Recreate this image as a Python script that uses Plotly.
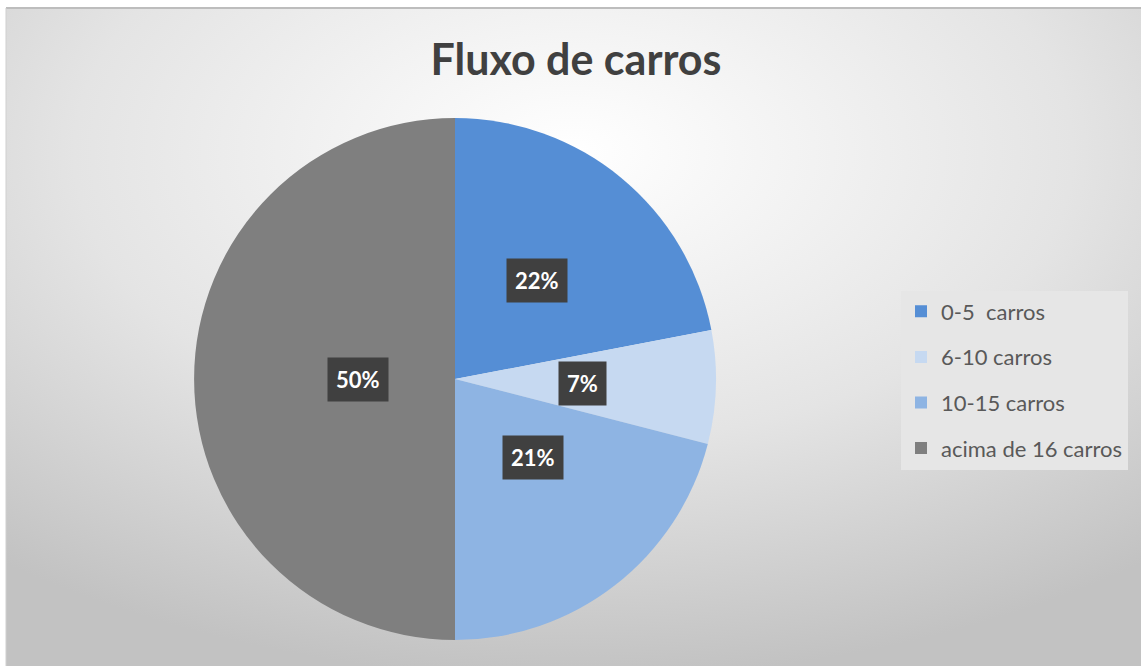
import base64
import math
import plotly.graph_objects as go

# ---- data ----
categories = ["0-5  carros", "6-10 carros", "10-15 carros", "acima de 16 carros"]
values = [22, 7, 21, 50]
colors = ["#558ED5", "#C6D9F1", "#8EB4E3", "#7F7F7F"]
title_text = "Fluxo de carros"

W, H = 1141, 666
FONT = "Lato, Open Sans, sans-serif"
# pie placement in pixels
pie_left, pie_right, pie_top, pie_bottom = 194, 716, 118, 640
dom_x = [pie_left / W, pie_right / W]
dom_y = [1 - pie_bottom / H, 1 - pie_top / H]

fig = go.Figure()
fig.add_trace(go.Pie(
    labels=categories,
    values=values,
    sort=False,
    direction="clockwise",
    rotation=0,
    marker=dict(colors=colors, line=dict(width=0)),
    textinfo="none",
    hoverinfo="label+percent",
    domain=dict(x=dom_x, y=dom_y),
    showlegend=False,
))

# legend entries (one group per category so they can be spaced like the original)
for i, (lab, col) in enumerate(zip(categories, colors)):
    fig.add_trace(go.Scatter(
        x=[None], y=[None], mode="markers", name=lab,
        marker=dict(symbol="square", size=12, color=col),
        legendgroup=f"g{i}", showlegend=True, hoverinfo="skip",
    ))

# percentage label boxes placed at slice centres (computed from data)
total = sum(values)
cx = (dom_x[0] + dom_x[1]) / 2
cy = (dom_y[0] + dom_y[1]) / 2
rx = (dom_x[1] - dom_x[0]) / 2
ry = (dom_y[1] - dom_y[0]) / 2
cum = 0
for v in values:
    mid = (cum + v / 2) / total * 2 * math.pi
    cum += v
    fig.add_annotation(
        x=cx + 0.49 * rx * math.sin(mid),
        y=cy + 0.49 * ry * math.cos(mid),
        xref="paper", yref="paper",
        text=f"<b>{round(v / total * 100)}%</b>",
        showarrow=False,
        font=dict(family=FONT, size=22, color="white"),
        bgcolor="#404040",
        borderpad=8,
    )

# background radial gradient
svg = f'''<svg xmlns="http://www.w3.org/2000/svg" width="{W}" height="{H}" viewBox="0 0 {W} {H}" preserveAspectRatio="none">
<defs><radialGradient id="g" cx="50%" cy="22%" r="80%" fx="50%" fy="22%">
<stop offset="0" stop-color="#ffffff"/><stop offset="0.55" stop-color="#e4e4e4"/><stop offset="1" stop-color="#c2c2c2"/>
</radialGradient></defs>
<rect x="0" y="0" width="{W}" height="{H}" fill="url(#g)"/></svg>'''
src = "data:image/svg+xml;base64," + base64.b64encode(svg.encode()).decode()

top_px, left_px = 8, 6
fig.add_layout_image(dict(
    source=src, xref="paper", yref="paper",
    x=left_px / W, y=1 - top_px / H,
    sizex=1 - left_px / W, sizey=1 - top_px / H,
    xanchor="left", yanchor="top", sizing="stretch", layer="below",
))
fig.add_shape(type="line", xref="paper", yref="paper",
              x0=left_px / W, x1=1, y0=1 - top_px / H, y1=1 - top_px / H,
              line=dict(color="#bdbdbd", width=2), layer="above")
fig.add_shape(type="line", xref="paper", yref="paper",
              x0=left_px / W, x1=left_px / W, y0=0, y1=1 - top_px / H,
              line=dict(color="#cfcfcf", width=1), layer="above")

fig.update_layout(
    width=W, height=H,
    margin=dict(l=0, r=0, t=0, b=0),
    paper_bgcolor="white",
    plot_bgcolor="rgba(0,0,0,0)",
    xaxis=dict(visible=False),
    yaxis=dict(visible=False),
    title=dict(text=f"<b>{title_text}</b>", x=576 / W, xanchor="center",
               y=1 - 60 / H, yanchor="middle",
               font=dict(family=FONT, size=43, color="#404040")),
    legend=dict(x=901 / W, xanchor="left", y=1 - 380 / H, yanchor="middle",
                bgcolor="#e6e6e6", borderwidth=0, tracegroupgap=14,
                font=dict(family=FONT, size=22, color="#595959"),
                itemwidth=30),
)

fig.write_html("out.html", config={"displayModeBar": False},
               post_script="document.body.style.margin='0';")
